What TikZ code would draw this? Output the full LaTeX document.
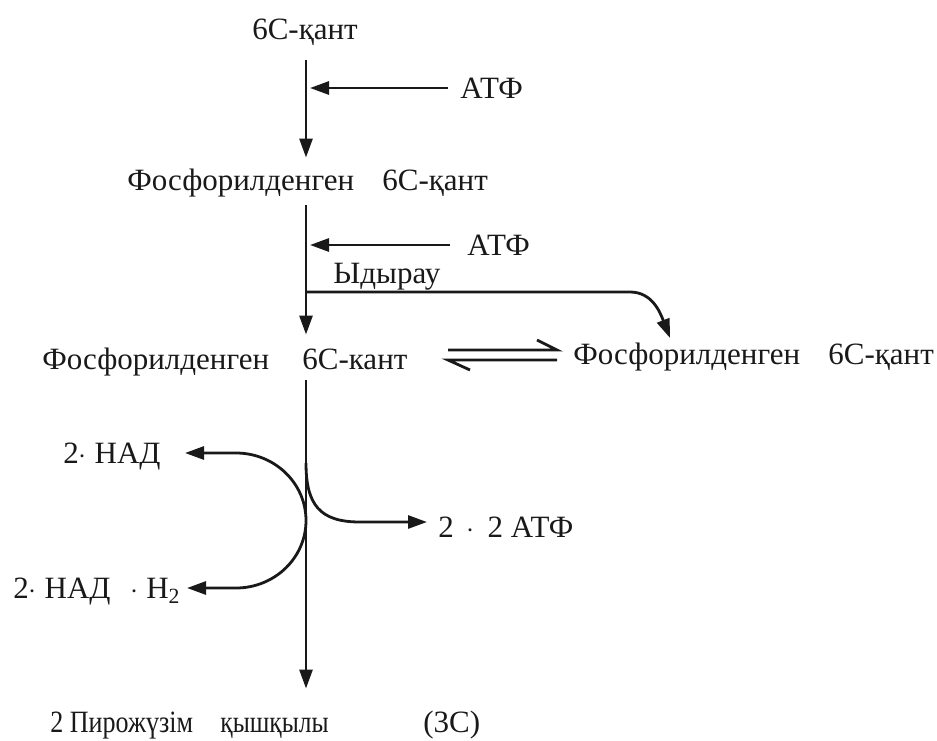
\documentclass[tikz,border=0pt]{standalone}
\usepackage{graphicx}
\usepackage{fontspec}
\setmainfont{Liberation Serif}
\usetikzlibrary{arrows.meta}
\begin{document}
\begin{tikzpicture}[x=0.5pt,y=-0.5pt,
  lbl/.style={inner sep=0pt, font=\fontsize{15.5}{18}\selectfont, text=black!90},
  flow/.style={line width=1.4pt, draw=black!90, -{Triangle[length=9.5pt,width=6.5pt]}},
  plain/.style={line width=1.4pt, draw=black!90}]
\useasboundingbox (0,0) rectangle (937,740);
% texts
\node[lbl] (s0) at (305,32) {6С-қант};
\node[lbl,anchor=west] (atpA) at (460,88) {АТФ};
\node[lbl,anchor=west] (s1) at (127,183) {\makebox[127.5pt][l]{Фосфорилденген}6С-қант};
\node[lbl,anchor=west] (atpB) at (467,245) {АТФ};
\node[lbl,anchor=west] (ydy) at (333,277) {Ыдырау};
\node[lbl,anchor=west] (s2) at (42,362) {\makebox[130pt][l]{Фосфорилденген}6С-кант};
\node[lbl,anchor=west] (s3) at (573,357) {\makebox[127.5pt][l]{Фосфорилденген}6С-қант};
\node[lbl,anchor=west] (nad1) at (63,457) {2$\cdot$ НАД};
\node[lbl,anchor=west] (nad2) at (13,592) {2$\cdot$ НАД\hspace{10pt}$\cdot$ H\textsubscript{2}};
\node[lbl,anchor=west] (atpC) at (438,527) {2 \,$\cdot$\, 2 АТФ};
\node[lbl,anchor=west] (bot) at (50,725) {\makebox[85pt][l]{\scalebox{0.84}[1]{2 Пирожүзім}}\makebox[101.5pt][l]{\scalebox{0.82}[1]{қышқылы}}(3С)};
% coordinates
\coordinate (br) at (306,292);
\coordinate (t3) at (670,338);
\coordinate (nadtop) at (185,453);
\coordinate (nadbot) at (187,588);
\coordinate (atpstart) at (306,463);
\coordinate (atptip) at (427,522);
% main line
\draw[flow,shorten <=7pt,shorten >=5.5pt] (br |- s0.south) -- (br |- s1.north);
\draw[flow,shorten <=4pt,shorten >=6.5pt] (br |- s1.south) -- (br |- s2.north);
\draw[flow,shorten <=2pt,shorten >=11pt] (br |- s2.south) -- (br |- bot.north);
% ATP inputs
\draw[flow,shorten <=6pt,shorten >=2pt] (atpA.west) -- (atpA.west -| br);
\draw[flow,shorten <=8.5pt,shorten >=2pt] (atpB.west) -- (atpB.west -| br);
% branch
\draw[flow] (br) -- (630,292) .. controls (652,292) and (660,312) .. (t3);
% equilibrium
\draw[plain] (448,350) -- (557,350) -- (537,340);
\draw[plain] (557,360) -- (448,360) -- (470,370);
% NAD
\draw[plain,{Triangle[length=9.5pt,width=6.5pt]}-{Triangle[length=9.5pt,width=6.5pt]}] (nadtop) -- (236,453) arc[start angle=-90,end angle=90,x radius=70,y radius=67.5] -- (nadbot);
% ATP out
\draw[flow] (atpstart) .. controls (306,505) and (320,522) .. (360,522) -- (atptip);
\end{tikzpicture}
\end{document}
